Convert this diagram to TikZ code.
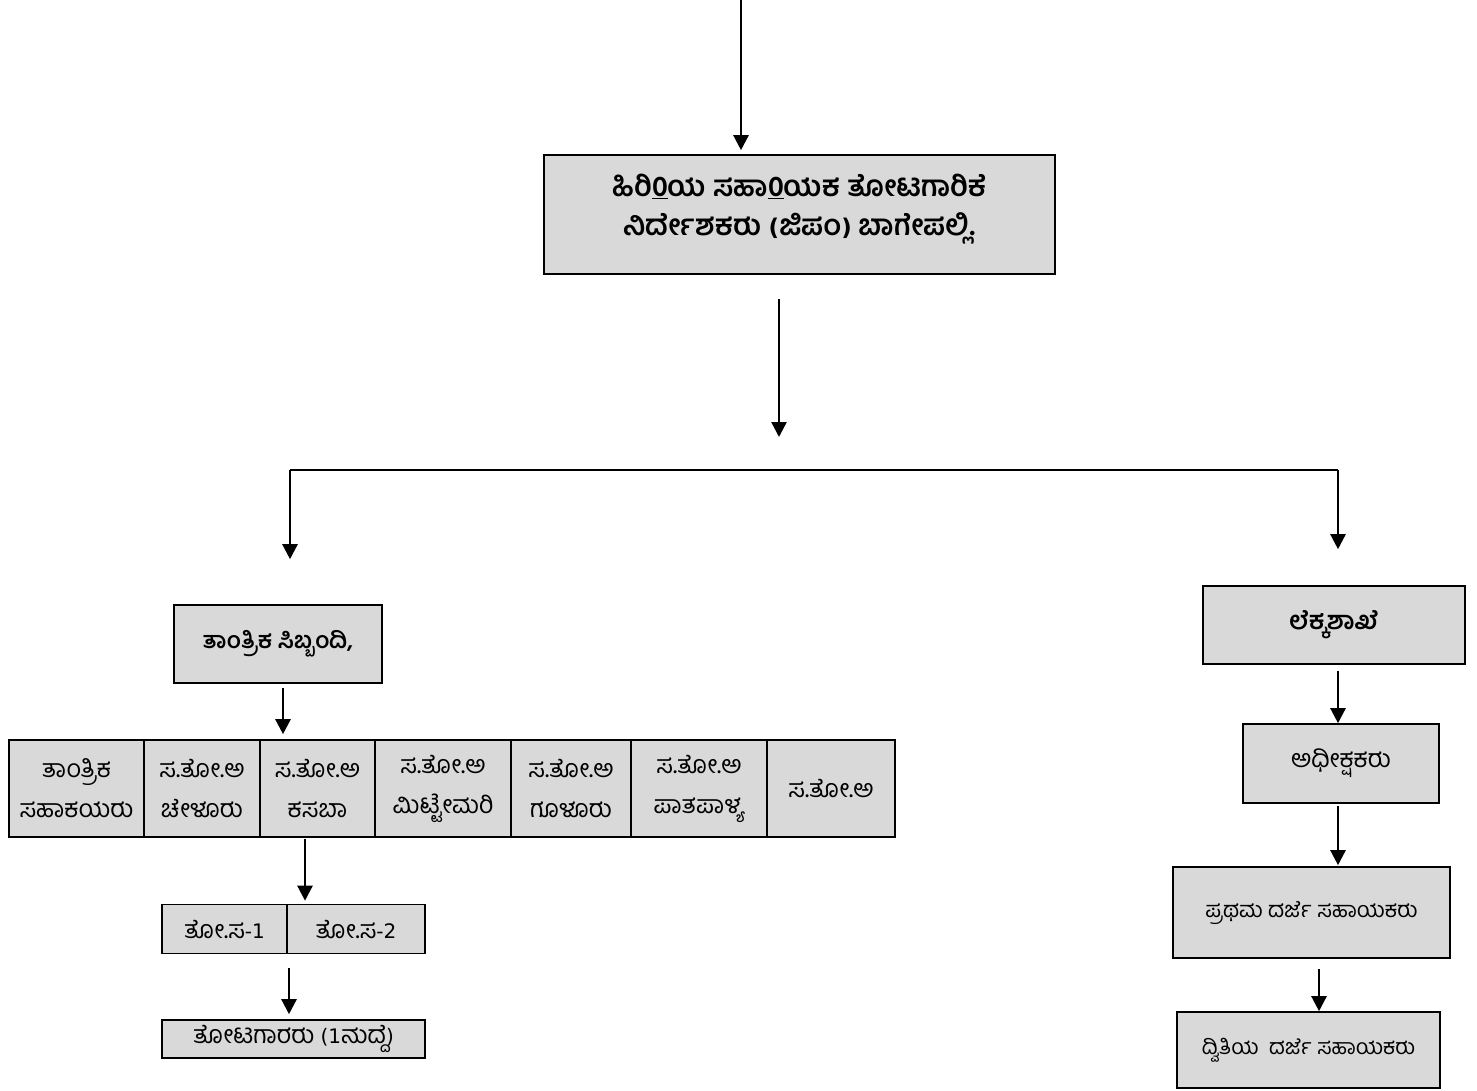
\documentclass[tikz,border=0pt]{standalone}
\usepackage{fontspec}
\setmainfont[Script=Kannada]{Hind Mysuru}
\newfontfamily\latf{DejaVu Sans}
\usetikzlibrary{arrows.meta}
\definecolor{boxgray}{RGB}{217,217,217}
\newcommand{\lat}[2]{{\latf\fontsize{#1}{30}\selectfont #2}}
\tikzset{
  box/.style={draw, line width=1.6pt, fill=boxgray, inner sep=0pt, align=center,
    font=\fontsize{25}{40}\selectfont},
  boldbox/.style={box, font=\fontsize{24}{38}\selectfont\bfseries},
  arr/.style={line width=2.4pt, -{Triangle[length=15pt,width=15pt]}},
  plain/.style={line width=2.4pt}
}
\begin{document}
\begin{tikzpicture}[x=1pt,y=-1pt]
\useasboundingbox (0,0) rectangle (1477,1090);
% top
\node[boldbox, minimum width=511, minimum height=119, text depth=20pt, font=\fontsize{29}{39}\selectfont\bfseries] (title) at (799.5,214.5)
  {ಹಿರಿ\underline{0}ಯ ಸಹಾ\underline{0}ಯಕ ತೋಟಗಾರಿಕೆ\\ನಿರ್ದೇಶಕರು \lat{23}{(}ಜಿಪಂ\lat{23}{)} ಬಾಗೇಪಲ್ಲಿ.};
% left branch
\node[boldbox, minimum width=208, minimum height=78, font=\fontsize{23}{38}\selectfont\bfseries] (tech) at (278,644) {ತಾಂತ್ರಿಕ ಸಿಬ್ಬಂದಿ,};
\node[box, minimum width=135, minimum height=97] (c1) at (76.5,788.5) {ತಾಂತ್ರಿಕ\\ಸಹಾಕಯರು};
\node[box, minimum width=116, minimum height=97] (c2) at (202,788.5) {ಸ.ತೋ.ಅ\\ಚೇಳೂರು};
\node[box, minimum width=115, minimum height=97] (c3) at (317.5,788.5) {ಸ.ತೋ.ಅ\\ಕಸಬಾ};
\node[box, minimum width=136, minimum height=97] (c4) at (443,788.5) {ಸ.ತೋ.ಅ\\ಮಿಟ್ಟೇಮರಿ};
\node[box, minimum width=120, minimum height=97] (c5) at (571,788.5) {ಸ.ತೋ.ಅ\\ಗೂಳೂರು};
\node[box, minimum width=136, minimum height=97] (c6) at (699,788.5) {ಸ.ತೋ.ಅ\\ಪಾತಪಾಳ್ಯ};
\node[box, minimum width=128, minimum height=97] (c7) at (831,788.5) {ಸ.ತೋ.ಅ};
\node[box, minimum width=125, minimum height=49] (t1) at (224.5,929) {ತೋ.ಸ\lat{20}{-1}};
\node[box, minimum width=138, minimum height=49] (t2) at (356,929) {ತೋ.ಸ\lat{20}{-2}};
\node[box, minimum width=263, minimum height=38] (gard) at (293.5,1039) {ತೋಟಗಾರರು \lat{20}{(1}ಹುದ್ದೆ\lat{20}{)}};
% right branch
\node[boldbox, minimum width=262, minimum height=78, font=\fontsize{25}{38}\selectfont\bfseries] (lekka) at (1334,625) {ಲೆಕ್ಕಶಾಖೆ};
\node[box, minimum width=196, minimum height=79] (adhi) at (1341,763.5) {ಅಧೀಕ್ಷಕರು};
\node[box, minimum width=277, minimum height=91, font=\fontsize{22}{38}\selectfont] (pra) at (1311.5,912.5) {ಪ್ರಥಮ ದರ್ಜೆ ಸಹಾಯಕರು};
\node[box, minimum width=263, minimum height=76, font=\fontsize{21.5}{38}\selectfont] (dvi) at (1308.5,1050) {ದ್ವಿತಿಯ\ \ ದರ್ಜೆ ಸಹಾಯಕರು};
% coordinates
\coordinate (top) at (741,0);
\coordinate (br) at (779,437);
\coordinate (hl) at (290,470);
\coordinate (hr) at (1338,470);
\coordinate (xa) at (283,0);
\coordinate (xb) at (305,0);
\coordinate (xc) at (289,0);
\coordinate (xr) at (1338,0);
\coordinate (xs) at (1319,0);
% connectors
\draw[arr, shorten >=4] (top) -- (top |- title.north);
\draw[arr, shorten <=24] (br |- title.south) -- (br);
\draw[plain] (hl) -- (hr);
\draw[arr, shorten >=45] (hl) -- (hl |- tech.north);
\draw[arr, shorten >=36] (hr) -- (hr |- lekka.north);
\draw[arr, shorten <=4, shorten >=5] (xa |- tech.south) -- (xa |- c3.north);
\draw[arr, shorten <=1, shorten >=3] (xb |- c3.south) -- (xb |- t1.north);
\draw[arr, shorten <=14, shorten >=5] (xc |- t1.south) -- (xc |- gard.north);
\draw[arr, shorten <=6, shorten >=0] (xr |- lekka.south) -- (xr |- adhi.north);
\draw[arr, shorten <=2, shorten >=1] (xr |- adhi.south) -- (xr |- pra.north);
\draw[arr, shorten <=10, shorten >=0] (xs |- pra.south) -- (xs |- dvi.north);
\end{tikzpicture}
\end{document}
